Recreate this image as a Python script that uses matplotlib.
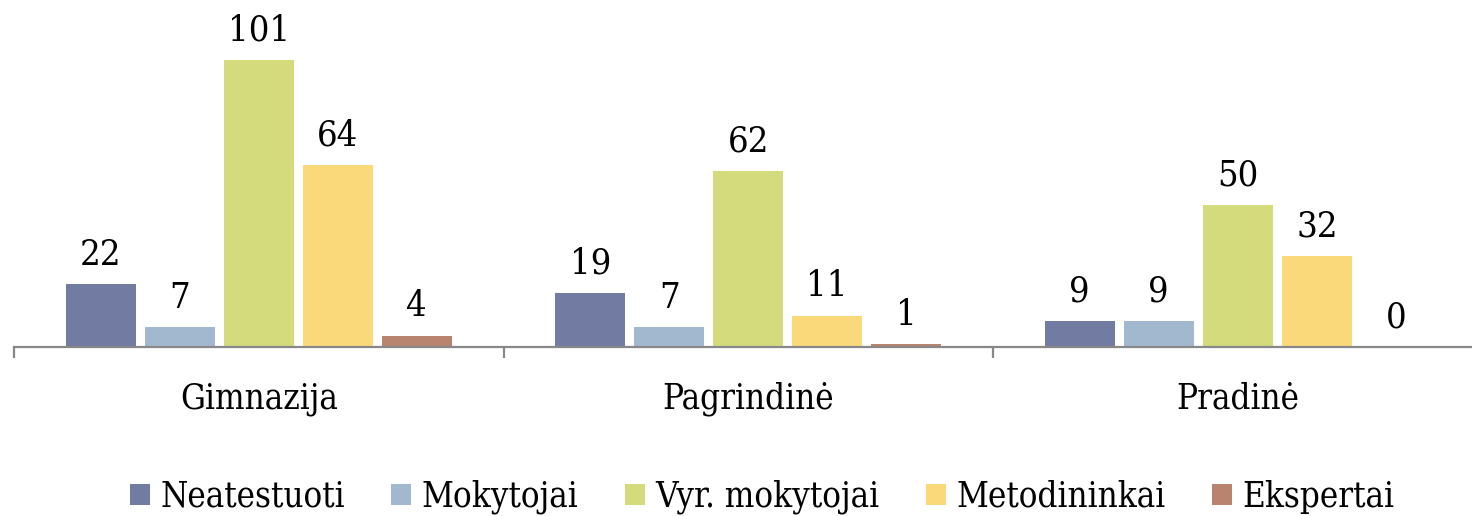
import numpy as np
import matplotlib.pyplot as plt

categories = ['Gimnazija', 'Pagrindinė', 'Pradinė']
series = ['Neatestuoti', 'Mokytojai', 'Vyr. mokytojai', 'Metodininkai', 'Ekspertai']
values = [
    [22, 19, 9],
    [7, 7, 9],
    [101, 62, 50],
    [64, 11, 32],
    [4, 1, 0],
]
colors = ['#727ca2', '#a2b8ce', '#d4db7c', '#fad97a', '#b8836f']

plt.rcParams['font.family'] = ['DejaVu Serif']
plt.rcParams['font.stretch'] = 'condensed'

W, H = 1472, 516
fig = plt.figure(figsize=(W / 100, H / 100), dpi=100)
group_px = 489.5
left_px = 14
ax = fig.add_axes([left_px / W, 1 - 347 / H, (W - left_px) / W, 341 / H])

ind = np.arange(len(categories))
step = 79 / group_px
width = 70 / group_px
handles = []
for i, (name, vals) in enumerate(zip(series, values)):
    rects = ax.bar(ind + (i - 2) * step, vals, width, color=colors[i],
                   label=name, zorder=2)
    ax.bar_label(rects, padding=9, fontsize=26)
    handles.append(rects)

ax.set_ylim(0, 120)
ax.set_xlim(-0.5, -0.5 + (W - left_px) / group_px)
for s in ['top', 'right', 'left']:
    ax.spines[s].set_visible(False)
ax.spines['bottom'].set_color('#888888')
ax.spines['bottom'].set_linewidth(1.6)
ax.set_yticks([])
ax.set_xticks(ind)
ax.set_xticklabels(categories, fontsize=25)
ax.tick_params(axis='x', which='major', length=0, pad=25)
ax.set_xticks([-0.5, 0.5, 1.5], minor=True)
ax.tick_params(axis='x', which='minor', length=8, width=1.6, color='#888888')

fig.legend(handles=handles, loc='center', bbox_to_anchor=(762 / W, 1 - 497 / H),
           ncol=5, frameon=False, fontsize=25, handlelength=0.58,
           handleheight=0.58, handletextpad=0.3, columnspacing=1.33)

fig.savefig('out.png', dpi=100)
